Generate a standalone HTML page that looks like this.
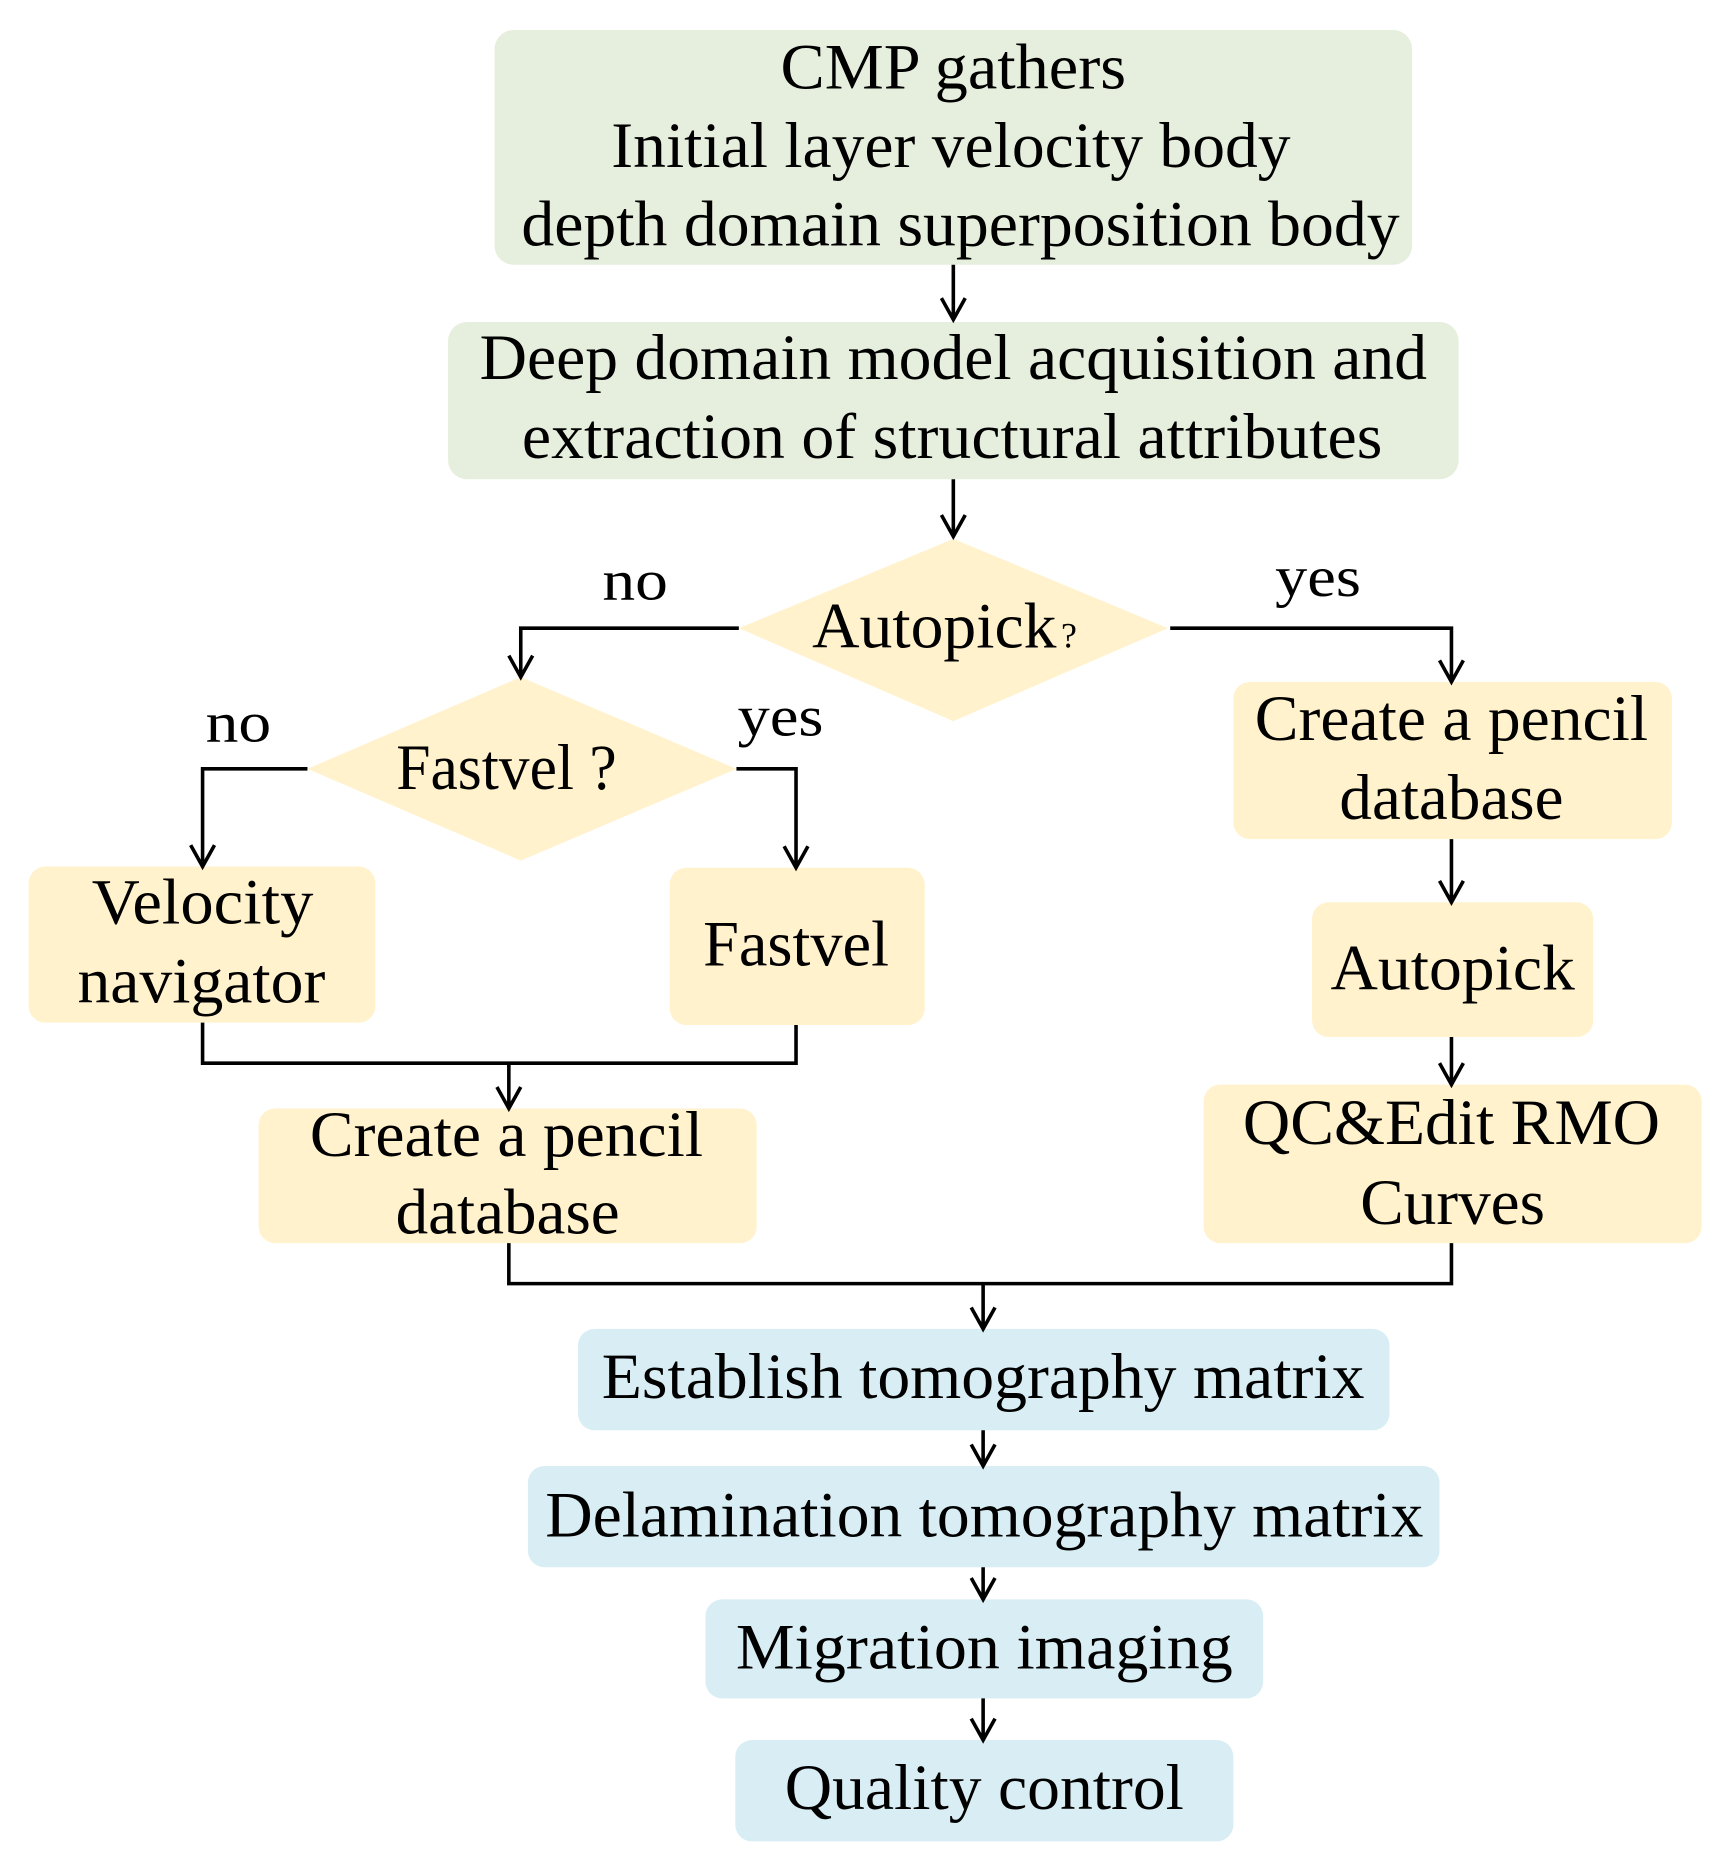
<!DOCTYPE html>
<html><head><meta charset="utf-8"><style>html,body{margin:0;padding:0;background:#fff}svg{display:block}</style></head>
<body>
<svg width="1716" height="1863" viewBox="0 0 1440 1563" xmlns="http://www.w3.org/2000/svg" font-family="Liberation Serif, serif" font-size="54" fill="#000">
<g fill="#e6efdd">
<rect x="415" y="25" width="770" height="197" rx="16"/>
<rect x="376" y="270" width="848" height="132" rx="16"/>
</g>
<g fill="#fff2cc">
<polygon points="620,527 800,452 980,527 800,605"/>
<polygon points="258,645 437,568 618,645 437,722"/>
<rect x="24" y="727" width="291" height="131" rx="14"/>
<rect x="562" y="728" width="214" height="132" rx="14"/>
<rect x="217" y="930" width="418" height="113" rx="14"/>
<rect x="1035" y="572" width="368" height="132" rx="14"/>
<rect x="1101" y="757" width="236" height="113" rx="14"/>
<rect x="1010" y="910" width="418" height="133" rx="14"/>
</g>
<g fill="#d8eef4">
<rect x="485" y="1115" width="681" height="85" rx="14"/>
<rect x="443" y="1230" width="765" height="85" rx="14"/>
<rect x="592" y="1342" width="468" height="83" rx="14"/>
<rect x="617" y="1460" width="418" height="85" rx="14"/>
</g>
<g stroke="#000" stroke-width="3" fill="none">
<path d="M800 222V268M790 250L800 268L810 250"/>
<path d="M800 402V450M790 432L800 450L810 432"/>
<path d="M620 527H437V568M427 550L437 568L447 550"/>
<path d="M982 527H1218V572M1208 554L1218 572L1228 554"/>
<path d="M258 645H170V727M160 709L170 727L180 709"/>
<path d="M618 645H668V728M658 710L668 728L678 710"/>
<path d="M170 858V892H668V860M427 892V930M417 912L427 930L437 912"/>
<path d="M1218 704V757M1208 739L1218 757L1228 739"/>
<path d="M1218 870V910M1208 892L1218 910L1228 892"/>
<path d="M427 1043V1077H1218V1043M825 1077V1115M815 1097L825 1115L835 1097"/>
<path d="M825 1200V1230M815 1212L825 1230L835 1212"/>
<path d="M825 1315V1342M815 1324L825 1342L835 1324"/>
<path d="M825 1425V1460M815 1442L825 1460L835 1442"/>
</g>
<g text-anchor="middle" lengthAdjust="spacingAndGlyphs">
<text x="800" y="74" textLength="290" lengthAdjust="spacingAndGlyphs">CMP gathers</text>
<text x="798" y="140" textLength="570" lengthAdjust="spacingAndGlyphs">Initial layer velocity body</text>
<text x="806" y="206" textLength="737" lengthAdjust="spacingAndGlyphs">depth domain superposition body</text>
<text x="800" y="318" textLength="795" lengthAdjust="spacingAndGlyphs">Deep domain model acquisition and</text>
<text x="799" y="384" textLength="722" lengthAdjust="spacingAndGlyphs">extraction of structural attributes</text>
<text x="784" y="543" textLength="205" lengthAdjust="spacingAndGlyphs">Autopick</text>
<text x="897" y="543" font-size="30">?</text>
<text x="533" y="503" font-size="48" textLength="55" lengthAdjust="spacingAndGlyphs">no</text>
<text x="1106" y="500" font-size="48" textLength="72" lengthAdjust="spacingAndGlyphs">yes</text>
<text x="425" y="662" textLength="185" lengthAdjust="spacingAndGlyphs">Fastvel ?</text>
<text x="200" y="622" font-size="48" textLength="55" lengthAdjust="spacingAndGlyphs">no</text>
<text x="655" y="617" font-size="48" textLength="72" lengthAdjust="spacingAndGlyphs">yes</text>
<text x="170" y="775" textLength="186" lengthAdjust="spacingAndGlyphs">Velocity</text>
<text x="169" y="841" textLength="208" lengthAdjust="spacingAndGlyphs">navigator</text>
<text x="668" y="810" textLength="156" lengthAdjust="spacingAndGlyphs">Fastvel</text>
<text x="425" y="970" textLength="330" lengthAdjust="spacingAndGlyphs">Create a pencil</text>
<text x="426" y="1035" textLength="188" lengthAdjust="spacingAndGlyphs">database</text>
<text x="1218" y="621" textLength="330" lengthAdjust="spacingAndGlyphs">Create a pencil</text>
<text x="1218" y="687" textLength="188" lengthAdjust="spacingAndGlyphs">database</text>
<text x="1219" y="830" textLength="205" lengthAdjust="spacingAndGlyphs">Autopick</text>
<text x="1218" y="960" textLength="350" lengthAdjust="spacingAndGlyphs">QC&amp;Edit RMO</text>
<text x="1219" y="1027" textLength="155" lengthAdjust="spacingAndGlyphs">Curves</text>
<text x="825" y="1173" textLength="640" lengthAdjust="spacingAndGlyphs">Establish tomography matrix</text>
<text x="826" y="1289" textLength="737" lengthAdjust="spacingAndGlyphs">Delamination tomography matrix</text>
<text x="826" y="1400" textLength="417" lengthAdjust="spacingAndGlyphs">Migration imaging</text>
<text x="826" y="1518" textLength="335" lengthAdjust="spacingAndGlyphs">Quality control</text>
</g>
</svg>
</body></html>
